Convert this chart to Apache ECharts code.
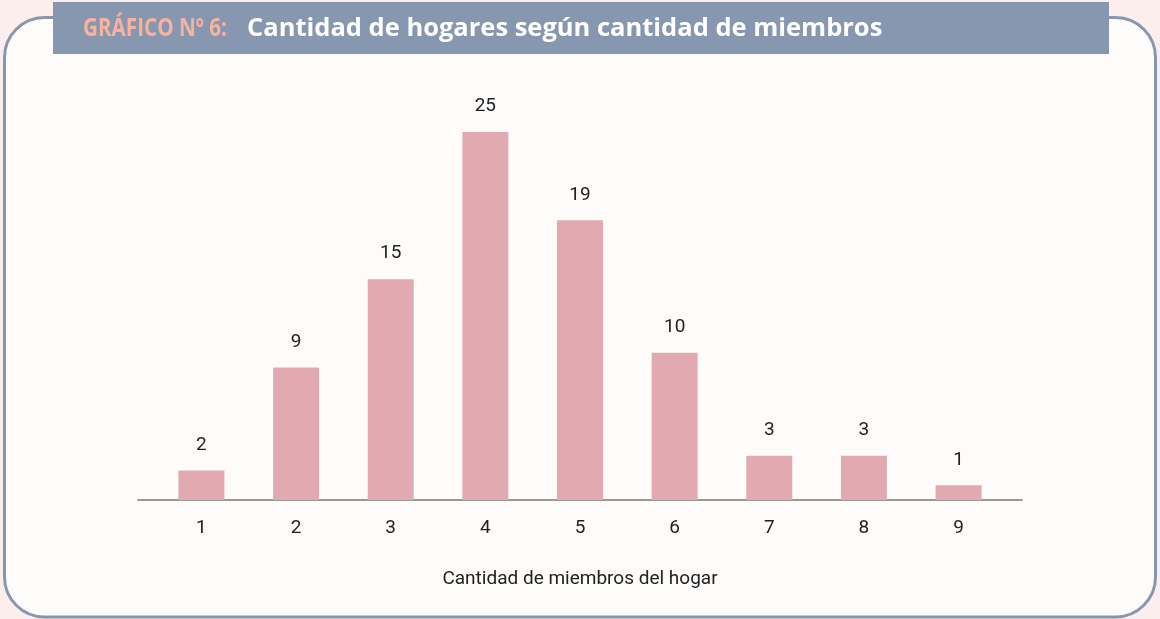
<!DOCTYPE html>
<html>
<head>
<meta charset="utf-8">
<script src="https://cdn.jsdelivr.net/npm/echarts@6/dist/echarts.min.js"></script>
<style>
html, body { margin: 0; padding: 0; background: #fdeeee; }
#chart { width: 1160px; height: 619px; }
</style>
</head>
<body>
<div id="chart"></div>
<script>
// cantidad de miembros del hogar
var members = [1, 2, 3, 4, 5, 6, 7, 8, 9]
// cantidad de hogares
var households = [2, 9, 15, 25, 19, 10, 3, 3, 1]

var chart = echarts.init(document.getElementById('chart'))
var frameColor = '#8797b0'
var labelFont = {
    color: '#222',
    fontFamily: 'Roboto, sans-serif',
    fontSize: 19
}

var option = {
    animation: false,
    backgroundColor: '#fdeeee',
    graphic: [
        {
            type: 'rect', z: 0,
            shape: { x: 4.5, y: 17.5, width: 1151, height: 599.5, r: 40 },
            style: { fill: '#fdfcfa', stroke: frameColor, lineWidth: 3 }
        },
        {
            type: 'rect', z: 1,
            shape: { x: 53, y: 2, width: 1056, height: 52 },
            style: { fill: frameColor }
        },
        {
            type: 'text', z: 2,
            x: 83, y: 29, scaleX: 0.81,
            style: {
                text: 'GRÁFICO Nº 6:',
                fill: '#f9b29e',
                font: 'bold 25.5px "Open Sans", sans-serif',
                textVerticalAlign: 'middle'
            }
        },
        {
            type: 'text', z: 2,
            x: 247, y: 29,
            style: {
                text: 'Cantidad de hogares según cantidad de miembros',
                fill: '#ffffff',
                font: 'bold 25.5px "Open Sans", sans-serif',
                textVerticalAlign: 'middle'
            }
        }
    ],
    grid: { left: 138, right: 138, top: 58.4, bottom: 119 },
    xAxis: {
        type: 'value',
        min: 0.33,
        max: 9.67,
        splitLine: { show: false },
        axisLine: { show: true, lineStyle: { color: '#777777', width: 1.5 } },
        axisTick: { show: false },
        axisLabel: Object.assign({ customValues: members, margin: 19 }, labelFont),
        name: 'Cantidad de miembros del hogar',
        nameLocation: 'middle',
        nameGap: 70,
        nameTextStyle: labelFont
    },
    yAxis: {
        type: 'value',
        min: 0,
        max: 30,
        show: false
    },
    series: [
        {
            type: 'bar',
            barWidth: 46,
            data: members.map(function (m, i) { return [m, households[i]] }),
            itemStyle: { color: '#e0aab0' },
            label: Object.assign({
                show: true,
                position: 'top',
                distance: 16,
                formatter: function (p) { return p.value[1] }
            }, labelFont)
        }
    ]
}
chart.setOption(option)
</script>
</body>
</html>
